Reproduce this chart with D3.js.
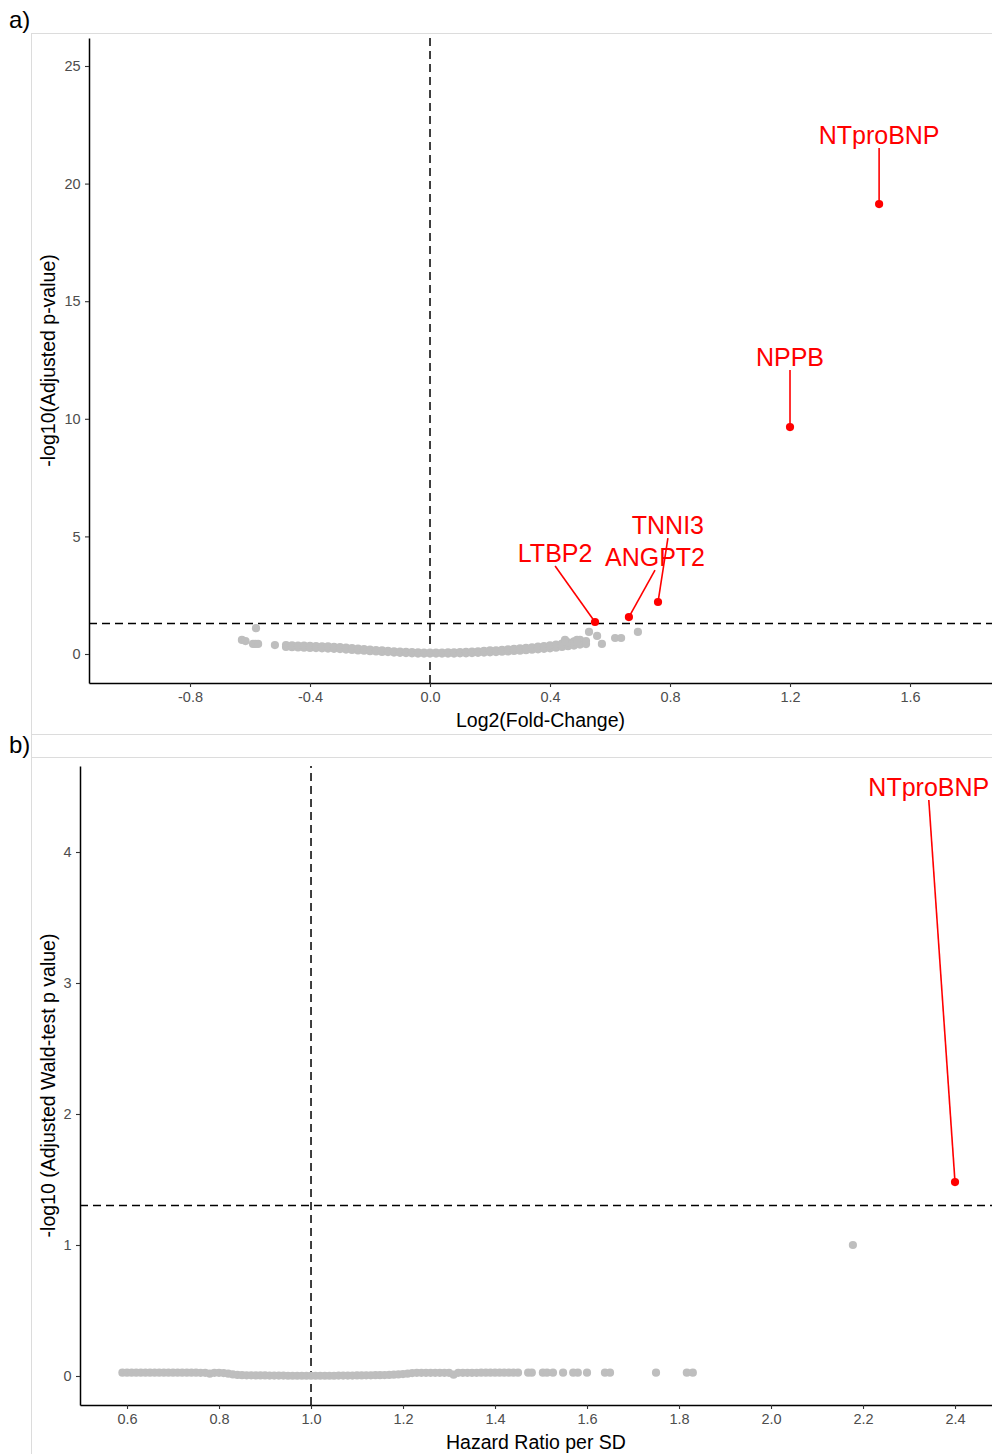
<!DOCTYPE html>
<html>
<head>
<meta charset="utf-8">
<script src="https://cdn.jsdelivr.net/npm/d3@7"></script>
<style>
  body { margin: 0; background: #fff; }
  text { font-family: "Liberation Sans", Arial, sans-serif; }
</style>
</head>
<body>
<svg id="chart" width="992" height="1454"></svg>
<script>
// ---- panel a: volcano plot ----
const hitsA = ["NTproBNP", "NPPB", "TNNI3", "ANGPT2", "LTBP2"];
const hitsAFC = [1.497, 1.2, 0.76, 0.663, 0.55];
const hitsAP = [19.13, 9.65, 2.21, 1.57, 1.36];
// label anchor (data coords) for each hit
const hitsALabelX = [1.497, 1.2, 0.793, 0.75, 0.417];
const hitsALabelY = [21.51, 12.07, 4.93, 3.57, 3.74];

// band of non-significant proteins: upper and lower edge of the cloud
const bandAX = [-0.48, -0.46, -0.44, -0.42, -0.40, -0.38, -0.36, -0.34, -0.32, -0.30,
  -0.28, -0.26, -0.24, -0.22, -0.20, -0.18, -0.16, -0.14, -0.12, -0.10,
  -0.08, -0.06, -0.04, -0.02, 0.00, 0.02, 0.04, 0.06, 0.08, 0.10,
  0.12, 0.14, 0.16, 0.18, 0.20, 0.22, 0.24, 0.26, 0.28, 0.30,
  0.32, 0.34, 0.36, 0.38, 0.40, 0.42, 0.44, 0.46, 0.48, 0.50, 0.52];
const bandAHi = [0.38, 0.37, 0.36, 0.36, 0.35, 0.34, 0.33, 0.32, 0.30, 0.29,
  0.27, 0.25, 0.23, 0.21, 0.19, 0.17, 0.15, 0.13, 0.11, 0.10,
  0.09, 0.08, 0.07, 0.06, 0.06, 0.06, 0.06, 0.07, 0.07, 0.08,
  0.09, 0.10, 0.11, 0.13, 0.15, 0.16, 0.18, 0.20, 0.22, 0.24,
  0.26, 0.28, 0.31, 0.34, 0.37, 0.40, 0.44, 0.49, 0.54, 0.60, 0.55];
const bandALo = [0.30, 0.29, 0.28, 0.27, 0.26, 0.25, 0.24, 0.23, 0.22, 0.21,
  0.19, 0.17, 0.15, 0.14, 0.12, 0.11, 0.09, 0.08, 0.06, 0.05,
  0.04, 0.03, 0.02, 0.02, 0.02, 0.02, 0.02, 0.02, 0.02, 0.03,
  0.03, 0.04, 0.05, 0.06, 0.07, 0.08, 0.10, 0.11, 0.13, 0.14,
  0.16, 0.18, 0.20, 0.22, 0.24, 0.27, 0.30, 0.33, 0.36, 0.40, 0.42];
// scattered grey proteins outside the band
const outAX = [-0.627, -0.615, -0.58, -0.59, -0.582, -0.573, -0.517, 0.53, 0.557, 0.573, 0.617, 0.637, 0.693, 0.49, 0.45];
const outAY = [0.60, 0.55, 1.10, 0.43, 0.43, 0.43, 0.38, 0.94, 0.77, 0.43, 0.68, 0.68, 0.94, 0.60, 0.60];

const ticksAX = [-0.8, -0.4, 0.0, 0.4, 0.8, 1.2, 1.6];
const ticksAY = [0, 5, 10, 15, 20, 25];

// ---- panel b: hazard ratios ----
const hitsB = ["NTproBNP"];
const hitsBHR = [2.4];
const hitsBP = [1.48];
const hitsBLabelX = [2.343];
const hitsBLabelY = [4.397];

const bandBX = [0.59, 0.60, 0.61, 0.62, 0.63, 0.64, 0.65, 0.66, 0.67, 0.68, 0.69,
  0.70, 0.71, 0.72, 0.73, 0.74, 0.75, 0.76, 0.77, 0.78, 0.79,
  0.80, 0.81, 0.82, 0.83, 0.84, 0.85, 0.86, 0.87, 0.88, 0.89,
  0.90, 0.91, 0.92, 0.93, 0.94, 0.95, 0.96, 0.97, 0.98, 0.99,
  1.00, 1.01, 1.02, 1.03, 1.04, 1.05, 1.06, 1.07, 1.08, 1.09,
  1.10, 1.11, 1.12, 1.13, 1.14, 1.15, 1.16, 1.17, 1.18, 1.19,
  1.20, 1.21, 1.22, 1.23, 1.24, 1.25, 1.26, 1.27, 1.28, 1.29,
  1.30, 1.31, 1.32, 1.33, 1.34, 1.35, 1.36, 1.37, 1.38, 1.39,
  1.40, 1.41, 1.42, 1.43, 1.44, 1.45];
const bandBY = [0.025, 0.025, 0.025, 0.025, 0.025, 0.025, 0.025, 0.025, 0.025, 0.025, 0.025,
  0.025, 0.025, 0.025, 0.025, 0.025, 0.025, 0.024, 0.024, 0.018, 0.024,
  0.024, 0.022, 0.018, 0.012, 0.008, 0.006, 0.005, 0.005, 0.004, 0.004,
  0.004, 0.003, 0.003, 0.003, 0.003, 0.002, 0.002, 0.002, 0.002, 0.002,
  0.002, 0.002, 0.002, 0.002, 0.002, 0.002, 0.003, 0.003, 0.003, 0.003,
  0.004, 0.004, 0.005, 0.005, 0.006, 0.006, 0.007, 0.008, 0.010, 0.012,
  0.015, 0.018, 0.022, 0.024, 0.024, 0.024, 0.024, 0.024, 0.024, 0.024,
  0.024, 0.010, 0.024, 0.024, 0.024, 0.024, 0.024, 0.025, 0.025, 0.025,
  0.025, 0.025, 0.025, 0.025, 0.025, 0.025];
const outBX = [1.472, 1.480, 1.504, 1.513, 1.526, 1.548, 1.570, 1.580, 1.600, 1.639, 1.650, 1.750, 1.817, 1.830, 2.178];
const outBY = [0.025, 0.025, 0.025, 0.025, 0.025, 0.025, 0.025, 0.025, 0.025, 0.025, 0.025, 0.025, 0.025, 0.025, 1.0];

const ticksBX = [0.6, 0.8, 1.0, 1.2, 1.4, 1.6, 1.8, 2.0, 2.2, 2.4];
const ticksBY = [0, 1, 2, 3, 4];

const sigLine = -Math.log10(0.05);
const grey = "#bebebe";
const red = "#ff0000";
const r = 4.1;

const svg = d3.select("#chart");

// frame of the figure
const frame = svg.append("g").attr("stroke", "#dcdcdc").attr("stroke-width", 1);
frame.append("line").attr("x1", 31.5).attr("x2", 31.5).attr("y1", 33).attr("y2", 1454);
[33.5, 734.5, 757.5].forEach(y => {
  frame.append("line").attr("x1", 31).attr("x2", 992).attr("y1", y).attr("y2", y);
});

svg.append("text").attr("x", 9).attr("y", 28).style("font-size", "24px").text("a)");
svg.append("text").attr("x", 9).attr("y", 753).style("font-size", "24px").text("b)");

// ggplot prints a plain hyphen for negatives
const fmt1 = d => d3.format(".1f")(d).replace("\u2212", "-");

function panel(opt) {
  const g = svg.append("g");
  const x = opt.x, y = opt.y;
  const [x0, x1] = x.range();
  const [y0, y1] = y.range();

  // reference lines
  g.append("line")
    .attr("x1", x0).attr("x2", x1)
    .attr("y1", y(sigLine)).attr("y2", y(sigLine))
    .attr("stroke", "#000").attr("stroke-width", 1.5).attr("stroke-dasharray", "8,5");
  g.append("line")
    .attr("x1", x(opt.vline)).attr("x2", x(opt.vline))
    .attr("y1", y0).attr("y2", y1)
    .attr("stroke", "#000").attr("stroke-width", 1.5).attr("stroke-dasharray", "8,5");

  // grey points
  const pts = [];
  opt.bandX.forEach((v, i) => {
    opt.bandY.forEach(arr => pts.push([v, arr[i]]));
  });
  opt.outX.forEach((v, i) => pts.push([v, opt.outY[i]]));
  g.append("g").selectAll("circle").data(pts).join("circle")
    .attr("cx", d => x(d[0])).attr("cy", d => y(d[1]))
    .attr("r", r).attr("fill", grey);

  // axes
  const ax = g.append("g").attr("transform", `translate(0,${y0})`)
    .call(d3.axisBottom(x).tickValues(opt.ticksX).tickFormat(fmt1).tickSize(4).tickSizeOuter(0));
  const ay = g.append("g").attr("transform", `translate(${x0},0)`)
    .call(d3.axisLeft(y).tickValues(opt.ticksY).tickFormat(d3.format("d")).tickSize(4).tickSizeOuter(0));
  [ax, ay].forEach(a => {
    a.select(".domain").attr("stroke", "#000").attr("stroke-width", 1.5);
    a.selectAll(".tick line").attr("stroke", "#333").attr("stroke-width", 1.1);
    a.selectAll(".tick text").attr("fill", "#4d4d4d")
      .style("font-size", "14.5px").style("font-family", "Liberation Sans, Arial, sans-serif");
  });
  ax.selectAll(".tick text").attr("dy", "0.85em");
  ay.selectAll(".tick text").attr("dx", "-0.1em");

  // axis titles
  g.append("text")
    .attr("x", (x0 + x1) / 2).attr("y", opt.xTitleY)
    .attr("text-anchor", "middle").style("font-size", "19.5px").text(opt.xTitle);
  g.append("text")
    .attr("transform", `translate(${opt.yTitleX},${(y0 + y1) / 2}) rotate(-90)`)
    .attr("text-anchor", "middle").style("font-size", "19.5px").text(opt.yTitle);

  // labelled hits
  const hits = opt.hits.map((name, i) => ({
    name, hx: opt.hitX[i], hy: opt.hitY[i], lx: opt.labX[i], ly: opt.labY[i]
  }));
  const hg = g.append("g");
  hg.selectAll("line").data(hits).join("line")
    .attr("x1", d => x(d.lx)).attr("y1", d => y(d.ly))
    .attr("x2", d => x(d.hx)).attr("y2", d => y(d.hy))
    .attr("stroke", red).attr("stroke-width", 1.6);
  hg.selectAll("circle").data(hits).join("circle")
    .attr("cx", d => x(d.hx)).attr("cy", d => y(d.hy))
    .attr("r", r).attr("fill", red);
  hg.selectAll("text").data(hits).join("text")
    .attr("x", d => x(d.lx)).attr("y", d => y(d.ly) - 4)
    .attr("text-anchor", "middle").attr("fill", red)
    .style("font-size", "25px").text(d => d.name);
}

// panel a scales: 0 -> 430px, 0.4 -> 550px; 0 -> 654px, 25 -> 66px
const xA = d3.scaleLinear().domain([-1.1367, 1.8733]).range([89, 992]);
const yA = d3.scaleLinear().domain([-1.233, 26.19]).range([683, 38]);
panel({
  x: xA, y: yA, vline: 0,
  bandX: bandAX, bandY: [bandALo, bandAHi], outX: outAX, outY: outAY,
  ticksX: ticksAX, ticksY: ticksAY,
  xTitle: "Log2(Fold-Change)", xTitleY: 727,
  yTitle: "-log10(Adjusted p-value)", yTitleX: 55,
  hits: hitsA, hitX: hitsAFC, hitY: hitsAP, labX: hitsALabelX, labY: hitsALabelY
});

// panel b scales: 0.6 -> 127px, 2.4 -> 955px; 0 -> 1376px, 4 -> 852px
const xB = d3.scaleLinear().domain([0.4978, 2.4804]).range([80, 992]);
const yB = d3.scaleLinear().domain([-0.2214, 4.6565]).range([1405, 766]);
panel({
  x: xB, y: yB, vline: 1.0,
  bandX: bandBX, bandY: [bandBY], outX: outBX, outY: outBY,
  ticksX: ticksBX, ticksY: ticksBY,
  xTitle: "Hazard Ratio per SD", xTitleY: 1449,
  yTitle: "-log10 (Adjusted Wald-test p value)", yTitleX: 55,
  hits: hitsB, hitX: hitsBHR, hitY: hitsBP, labX: hitsBLabelX, labY: hitsBLabelY
});
</script>
</body>
</html>
